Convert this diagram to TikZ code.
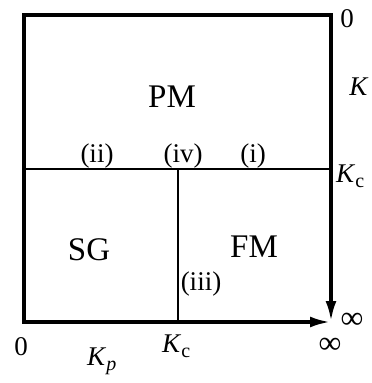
\documentclass[tikz,border=0pt]{standalone}
\usepackage{fontspec}
\setmainfont{Liberation Serif}
\usetikzlibrary{arrows.meta}
\newcommand{\subc}[1]{\raisebox{-0.22em}{\fontsize{20}{20}\selectfont #1}}
\tikzset{
  frame/.style={line width=3.2pt},
  divider/.style={line width=1.5pt},
  axisarrow/.style={line width=3.2pt,-{Latex[length=20pt,width=11pt]}},
  small/.style={font=\fontsize{27}{30}\selectfont, inner sep=0pt, anchor=base},
  big/.style={font=\fontsize{33}{38}\selectfont, inner sep=0pt, anchor=base},
  infty/.style={font=\fontsize{32}{34}\selectfont, inner sep=0pt, anchor=center},
}
\begin{document}
\begin{tikzpicture}[x=1pt,y=-1pt]
\useasboundingbox (0,0) rectangle (372,383);
\coordinate (TL) at (24,15);
\coordinate (TR) at (331,15);
\coordinate (BL) at (24,322);
\coordinate (BR) at (331,321);
\coordinate (BX) at (330,322);
\coordinate (ML) at (24,169);
\coordinate (MR) at (331,169);
\coordinate (MC) at (178,169);
\coordinate (BC) at (178,322);
\draw[frame, line cap=rect] (BL) -- (TL) -- (TR);
\draw[axisarrow] (TR) -- (BR);
\draw[axisarrow] (BL) -- (BX);
\draw[divider] (ML) -- (MR);
\draw[divider] (MC) -- (BC);
% region labels
\node[big] (pm) at (172,107) {PM};
\node[big] (sg) at (89,260) {SG};
\node[big] (fm) at (254,257) {FM};
\node[small] (ii) at (97,162) {(ii)};
\node[small] (iv) at (183,162) {(iv)};
\node[small] (i) at (253,162) {(i)};
\node[small] (iii) at (201,290) {(iii)};
% axis labels
\node[small] (z1) at (347,27) {0};
\node[small] (K) at (359,95) {\textit{K}};
\node[small,anchor=base west] (Kc1) at (336,182) {\textit{K}\subc{c}};
\node[infty] (inf1) at (352,321) {∞};
\node[infty] (inf2) at (330,346) {∞};
\node[small] (z2) at (21,355) {0};
\node[small,anchor=base west] (Kp) at (87,365) {\textit{K}\subc{\textit{p}}};
\node[small,anchor=base west] (Kc2) at (162,352) {\textit{K}\subc{c}};
\end{tikzpicture}
\end{document}
